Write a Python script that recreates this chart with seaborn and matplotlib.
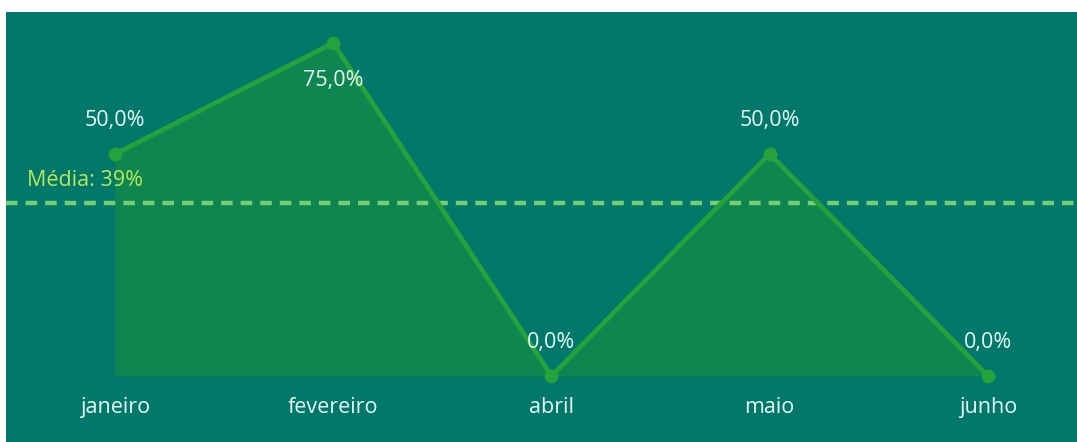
import matplotlib
matplotlib.use("Agg")
import matplotlib.pyplot as plt
import seaborn as sns
import pandas as pd

# Data
months = ["janeiro", "fevereiro", "abril", "maio", "junho"]
values = [50.0, 75.0, 0.0, 50.0, 0.0]
mean_value = 39
mean_label = "Média: 39%"

BG = "#02786b"
FILL = "#0f8650"
LINE = "#25a23b"
DASH = "#74cf72"
MEAN_TXT = "#b8e85a"
LABEL = "#e4fbf3"
FS = 15.5

sns.set_style("white")
plt.rcParams['font.family'] = ['Open Sans', 'DejaVu Sans']

df = pd.DataFrame({"mes": months, "pct": values, "x": range(len(months))})

fig = plt.figure(figsize=(10.77, 4.42), dpi=100)
fig.patch.set_facecolor("white")
ax = fig.add_axes([6 / 1077, 0, 1071 / 1077, 430 / 442])
ax.set_facecolor(BG)

# area under the line
ax.fill_between(df["x"], 0, df["pct"], color=FILL, lw=0, zorder=1)
sns.lineplot(data=df, x="x", y="pct", ax=ax, color=LINE, lw=3.4,
             marker="o", markersize=10, markeredgewidth=0, zorder=3)

# mean line
ax.axhline(mean_value, color=DASH, lw=3.2, ls=(0, (2.6, 1.8)), zorder=2)
ax.annotate(mean_label, xy=(21 / 1071, mean_value), xycoords=("axes fraction", "data"),
            xytext=(0, 22), textcoords="offset pixels", ha="left", va="center",
            color=MEAN_TXT, fontsize=FS)

# value labels
for i, v in enumerate(values):
    dy = 34 if v < max(values) else -38
    ax.annotate(f"{v:.1f}%".replace(".", ","), xy=(i, v), xytext=(0, dy),
                textcoords="offset pixels", ha="center", va="center",
                color=LABEL, fontsize=FS)

# category labels inside the panel
for i, m in enumerate(months):
    ax.text(i, -7, m, ha="center", va="center", color=LABEL, fontsize=FS)

ax.set_xlim(-0.4994, 4.408)
ax.set_ylim(-14.86, 81.98)
ax.set_xticks([])
ax.set_yticks([])
ax.set_xlabel("")
ax.set_ylabel("")
for s in ax.spines.values():
    s.set_visible(False)

fig.savefig("out.png", dpi=100, facecolor="white")
